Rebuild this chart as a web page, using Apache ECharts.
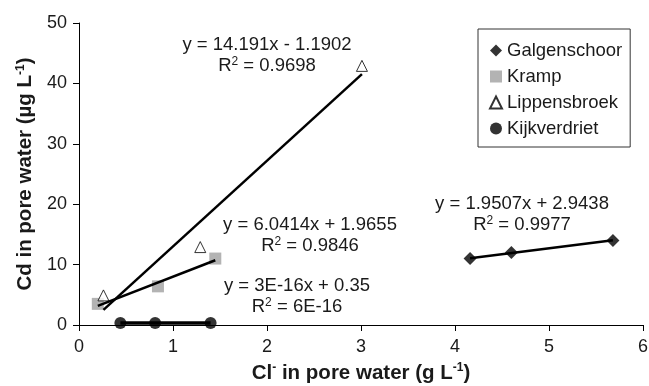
<!DOCTYPE html>
<html>
<head>
<meta charset="utf-8">
<script src="https://cdn.jsdelivr.net/npm/echarts@6/dist/echarts.min.js"></script>
<style>
  html, body { margin: 0; padding: 0; background: #fff; }
  #chart { width: 649px; height: 386px; }
</style>
</head>
<body>
<div id="chart"></div>
<script>
// Cl- (g/L) vs Cd (µg/L) in pore water, four sites
const galgenschoorCl = [4.16, 4.60, 5.68];
const galgenschoorCd = [11.0, 12.0, 14.0];
const krampCl = [0.20, 0.84, 1.45];
const krampCd = [3.5, 6.4, 11.0];
const lippensbroekCl = [0.26, 1.29, 3.01];
const lippensbroekCd = [4.9, 12.9, 42.9];
const kijkverdrietCl = [0.44, 0.81, 1.40];
const kijkverdrietCd = [0.35, 0.35, 0.35];

// Linear fits as reported: [slope, intercept]
const fitGalgenschoor = [1.9507, 2.9438];
const fitKramp = [6.0414, 1.9655];
const fitLippensbroek = [14.191, -1.1902];
const fitKijkverdriet = [3e-16, 0.35];

const eqGalgenschoor = ['y = 1.9507x + 2.9438', '0.9977'];
const eqKramp = ['y = 6.0414x + 1.9655', '0.9846'];
const eqLippensbroek = ['y = 14.191x - 1.1902', '0.9698'];
const eqKijkverdriet = ['y = 3E-16x + 0.35', '6E-16'];

const xTicks = [0, 1, 2, 3, 4, 5, 6];
const yTicks = [0, 10, 20, 30, 40, 50];

const font = 'Liberation Sans, Arial, sans-serif';
const ink = '#1a1a1a';

function pairs(xs, ys) { return xs.map((x, i) => [x, ys[i]]); }
function fitLine(xs, fit) {
  const lo = Math.min(...xs), hi = Math.max(...xs);
  return [[lo, fit[0] * lo + fit[1]], [hi, fit[0] * hi + fit[1]]];
}

const chart = echarts.init(document.getElementById('chart'), null, { renderer: 'canvas' });

const trend = (name, xs, fit, w) => ({
  name: name, type: 'line', data: fitLine(xs, fit), symbol: 'none', silent: true,
  lineStyle: { color: '#000', width: w }, z: 2, animation: false
});

const titleRich = { sup: { fontSize: 12, fontWeight: 'bold', color: ink, padding: [0, 0, 10, 0] } };

chart.setOption({
  animation: false,
  textStyle: { fontFamily: font },
  grid: { left: 79, right: 6, top: 23, bottom: 61, containLabel: false, outerBoundsMode: 'none' },
  xAxis: {
    type: 'value', min: xTicks[0], max: xTicks[xTicks.length - 1], interval: 1,
    name: 'Cl{sup|-} in pore water (g L{sup|-1})',
    nameLocation: 'middle', nameGap: 37,
    nameTextStyle: { fontSize: 20.5, fontWeight: 'bold', color: ink, fontFamily: font, rich: titleRich },
    axisLine: { lineStyle: { color: '#000', width: 1 } },
    axisTick: { show: true, length: 6, inside: false, lineStyle: { color: '#000' } },
    axisLabel: { fontSize: 18, color: ink, margin: 13, fontFamily: font },
    splitLine: { show: false }
  },
  yAxis: {
    type: 'value', min: yTicks[0], max: yTicks[yTicks.length - 1], interval: 10,
    name: 'Cd in pore water (µg L{sup|-1})',
    nameLocation: 'middle', nameGap: 41, nameRotate: 90,
    nameTextStyle: { fontSize: 20.5, fontWeight: 'bold', color: ink, fontFamily: font, rich: titleRich },
    axisLine: { show: true, lineStyle: { color: '#000', width: 1 } },
    axisTick: { show: true, length: 6, inside: false, lineStyle: { color: '#000' } },
    axisLabel: { fontSize: 18, color: ink, margin: 12, fontFamily: font },
    splitLine: { show: false }
  },
  legend: {
    orient: 'vertical', left: 478, top: 29,
    padding: [12, 8, 9, 11],
    borderColor: '#333', borderWidth: 1, backgroundColor: '#fff',
    itemWidth: 12, itemHeight: 12, itemGap: 7,
    textStyle: { fontSize: 18.5, color: ink, lineHeight: 19, fontFamily: font },
    data: [
      { name: 'Galgenschoor', icon: 'diamond' },
      { name: 'Kramp', icon: 'rect' },
      { name: 'Lippensbroek', icon: 'triangle' },
      { name: 'Kijkverdriet', icon: 'circle' }
    ],
    selectedMode: false
  },
  series: [
    trend('fit-lippensbroek', lippensbroekCl, fitLippensbroek, 2.5),
    trend('fit-kramp', krampCl, fitKramp, 2.5),
    trend('fit-galgenschoor', galgenschoorCl, fitGalgenschoor, 2.5),
    trend('fit-kijkverdriet', kijkverdrietCl, fitKijkverdriet, 3.5),
    {
      name: 'Galgenschoor', type: 'scatter', symbol: 'diamond', symbolSize: 13,
      data: pairs(galgenschoorCl, galgenschoorCd), itemStyle: { color: '#000' }, z: 3
    },
    {
      name: 'Kramp', type: 'scatter', symbol: 'rect', symbolSize: 12,
      data: pairs(krampCl, krampCd), itemStyle: { color: '#a0a0a0' }, z: 1
    },
    {
      name: 'Lippensbroek', type: 'scatter', symbol: 'triangle', symbolSize: 11,
      data: pairs(lippensbroekCl, lippensbroekCd),
      itemStyle: { color: '#fff', borderColor: '#000', borderWidth: 1 }, z: 1
    },
    {
      name: 'Kijkverdriet', type: 'scatter', symbol: 'circle', symbolSize: 12,
      data: pairs(kijkverdrietCl, kijkverdrietCd), itemStyle: { color: '#000' }, z: 3
    }
  ]
});

// Regression equations with R², placed beside each fit
function eqBlock(lines, cx, cy) {
  return [
    { type: 'text', x: cx, y: cy, style: { text: lines[0], fontSize: 18.5, fontFamily: font, fill: ink, align: 'center', verticalAlign: 'middle' } },
    { type: 'text', x: cx, y: cy + 21, style: {
        text: 'R{sup|2} = ' + lines[1], fontSize: 18.5, fontFamily: font, fill: ink, align: 'center', verticalAlign: 'middle',
        rich: { sup: { fontSize: 12, fontFamily: font, fill: ink, padding: [0, 0, 9, 0] } } } }
  ];
}

chart.setOption({
  graphic: [].concat(
    eqBlock(eqLippensbroek, 267, 45),
    eqBlock(eqKramp, 310, 225),
    eqBlock(eqKijkverdriet, 297, 286),
    eqBlock(eqGalgenschoor, 522, 204)
  )
});
</script>
</body>
</html>
